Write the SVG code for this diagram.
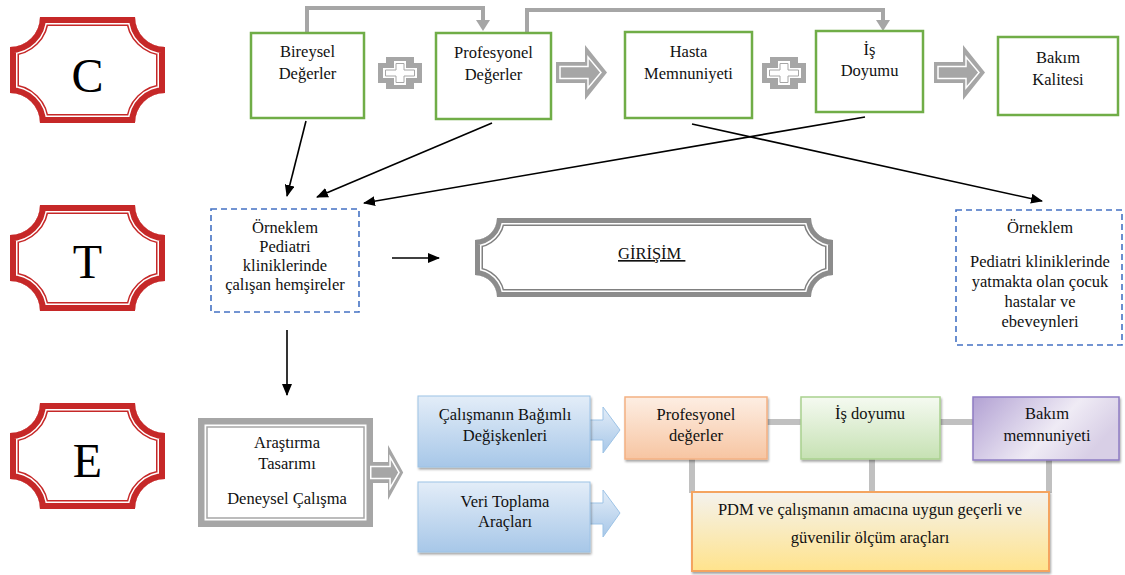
<svg xmlns="http://www.w3.org/2000/svg" width="1125" height="575" viewBox="0 0 1125 575">
<style>
.t{font-family:"Liberation Serif","Times New Roman",serif;font-size:16.5px;fill:#111;text-anchor:middle}
.big{font-family:"Liberation Serif","Times New Roman",serif;font-size:48px;fill:#000;text-anchor:middle}
.gbox{fill:#fff;stroke:#70AD47;stroke-width:2.5}
.dash{fill:#fff;stroke:#4472C4;stroke-width:1.6;stroke-dasharray:6 4}
.blk{stroke:#000;stroke-width:1.6;fill:none;marker-end:url(#ah)}
.gc{stroke:#a6a6a6;stroke-width:4;fill:none}
.gh{fill:#a6a6a6}
.bar{stroke:#c0c0c0;stroke-width:6}
.barrow{fill:#a6a6a6}
.binner{fill:none;stroke:#fff;stroke-width:1.5}
.bluearr{fill:url(#blueGrad);stroke:#9dc3e6;stroke-width:1}
</style>
<defs>
<marker id="ah" markerWidth="12" markerHeight="10" refX="11" refY="5" orient="auto" markerUnits="userSpaceOnUse"><path d="M0,0 L12,5 L0,10 Z" fill="#000"/></marker>
<path id="plq" d="M30,0 H125 A30,30 0 0 0 155,30 V76 A30,30 0 0 0 125,106 H30 A30,30 0 0 0 0,76 V30 A30,30 0 0 0 30,0 Z"/>
<clipPath id="plqClip"><use href="#plq"/></clipPath>
<path id="gir" d="M22,0 H336 A22,22 0 0 0 358,22 V57 A22,22 0 0 0 336,79 H22 A22,22 0 0 0 0,57 V22 A22,22 0 0 0 22,0 Z"/>
<clipPath id="girClip"><use href="#gir"/></clipPath>
<g id="blockArrow">
<path class="barrow" d="M0,17 H29 V0 L51,27.5 L29,55 V38 H0 Z"/>
<path class="binner" vector-effect="non-scaling-stroke" d="M4,21.5 H32 V12 L45,27.5 L32,43 V33.5 H4 Z"/>
</g>
<g id="plus">
<path fill="#a6a6a6" d="M8,0 H36 V6 H44 V26 H36 V32 H8 V26 H0 V6 H8 Z"/>
<path fill="#fff" d="M16,4 H28 V11 H39 V21 H28 V28 H16 V21 H5 V11 H16 Z"/>
<path fill="none" stroke="#a6a6a6" stroke-width="1" d="M18,6.5 H26 V13 H36.5 V19 H26 V25.5 H18 V19 H7.5 V13 H18 Z"/>
</g>
<linearGradient id="blueGrad" x1="0" y1="0" x2="0" y2="1"><stop offset="0" stop-color="#e3edf8"/><stop offset="1" stop-color="#a7c7e8"/></linearGradient>
<linearGradient id="orangeGrad" x1="0" y1="0" x2="0" y2="1"><stop offset="0" stop-color="#fdeee3"/><stop offset="1" stop-color="#f7c5a2"/></linearGradient>
<linearGradient id="greenGrad" x1="0" y1="0" x2="0" y2="1"><stop offset="0" stop-color="#f5faf1"/><stop offset="1" stop-color="#c6e1b3"/></linearGradient>
<linearGradient id="purpleGrad" x1="0" y1="0" x2="1" y2="0.4"><stop offset="0" stop-color="#b2a1d3"/><stop offset="0.65" stop-color="#efebf5"/><stop offset="1" stop-color="#d8cfe6"/></linearGradient>
<linearGradient id="yellowGrad" x1="0" y1="0" x2="0" y2="1"><stop offset="0" stop-color="#f4f2ee"/><stop offset="1" stop-color="#ffe38c"/></linearGradient>
<filter id="sh" x="-10%" y="-10%" width="130%" height="140%"><feDropShadow dx="1" dy="2" stdDeviation="1" flood-color="#000" flood-opacity="0.35"/></filter>
</defs>

<rect width="1125" height="575" fill="#fff"/>

<!-- Row labels -->
<g id="label-C" transform="translate(10,17)">
<g clip-path="url(#plqClip)">
<use href="#plq" fill="#fff" stroke="#C62828" stroke-width="18"/>
<use href="#plq" fill="none" stroke="#fff" stroke-width="15"/>
<use href="#plq" fill="none" stroke="#C62828" stroke-width="12"/>
</g>
<text class="big" x="77.5" y="74.5">C</text>
</g>
<g id="label-T" transform="translate(10,205)">
<g clip-path="url(#plqClip)">
<use href="#plq" fill="#fff" stroke="#C62828" stroke-width="18"/>
<use href="#plq" fill="none" stroke="#fff" stroke-width="15"/>
<use href="#plq" fill="none" stroke="#C62828" stroke-width="12"/>
</g>
<text class="big" x="77.5" y="73">T</text>
</g>
<g id="label-E" transform="translate(10,403)">
<g clip-path="url(#plqClip)">
<use href="#plq" fill="#fff" stroke="#C62828" stroke-width="18"/>
<use href="#plq" fill="none" stroke="#fff" stroke-width="15"/>
<use href="#plq" fill="none" stroke="#C62828" stroke-width="12"/>
</g>
<text class="big" x="77.5" y="74">E</text>
</g>

<!-- Connectors -->
<g id="connectors">
<path class="gc" d="M307,33 V8 H483 V21"/>
<polygon class="gh" points="476,20 490,20 483,31"/>
<path class="gc" d="M527,33 V10 H883 V21"/>
<polygon class="gh" points="876,20 890,20 883,31"/>
<path class="blk" d="M306,121 L287,196"/>
<path class="blk" d="M492,123 L317,197"/>
<path class="blk" d="M865,117 L364,203"/>
<path class="blk" d="M692,124 L1042,201"/>
<path class="blk" d="M392,258 L439,258"/>
<path class="blk" d="M287,330 L287,395"/>
<line class="bar" x1="767" y1="422" x2="801" y2="422"/>
<line class="bar" x1="940" y1="422" x2="973" y2="422"/>
<line class="bar" x1="692" y1="459" x2="692" y2="493"/>
<line class="bar" x1="872" y1="459" x2="872" y2="493"/>
<line class="bar" x1="1049" y1="460" x2="1049" y2="493"/>
</g>

<!-- C row -->
<g id="node-bireysel">
<rect class="gbox" x="251" y="33" width="113" height="85"/>
<text class="t" x="307.5" y="57">Bireysel</text>
<text class="t" x="307.5" y="79">Değerler</text>
</g>
<g id="op-plus-1"><use href="#plus" transform="translate(378,57)"/></g>
<g id="node-profesyonel">
<rect class="gbox" x="436" y="33" width="115" height="86"/>
<text class="t" x="493.5" y="58">Profesyonel</text>
<text class="t" x="493.5" y="80">Değerler</text>
</g>
<g id="op-arrow-1"><use href="#blockArrow" transform="translate(556,45)"/></g>
<g id="node-hasta">
<rect class="gbox" x="625" y="32" width="127" height="86"/>
<text class="t" x="688.5" y="57">Hasta</text>
<text class="t" x="688.5" y="79">Memnuniyeti</text>
</g>
<g id="op-plus-2"><use href="#plus" transform="translate(762,57)"/></g>
<g id="node-is">
<rect class="gbox" x="816" y="31" width="107" height="81"/>
<text class="t" x="869.5" y="55">İş</text>
<text class="t" x="869.5" y="76">Doyumu</text>
</g>
<g id="op-arrow-2"><use href="#blockArrow" transform="translate(934,45)"/></g>
<g id="node-bakim">
<rect class="gbox" x="998" y="37" width="120" height="78"/>
<text class="t" x="1058" y="63">Bakım</text>
<text class="t" x="1058" y="85">Kalitesi</text>
</g>

<!-- T row -->
<g id="node-orneklem-hemsire">
<rect class="dash" x="211" y="209" width="148" height="103"/>
<text class="t" x="285" y="233">Örneklem</text>
<text class="t" x="285" y="252">Pediatri</text>
<text class="t" x="285" y="271">kliniklerinde</text>
<text class="t" x="285" y="290">çalışan hemşireler</text>
</g>
<g id="node-girisim" transform="translate(475,218)">
<g clip-path="url(#girClip)">
<use href="#gir" fill="#fff" stroke="#808080" stroke-width="16"/>
<use href="#gir" fill="none" stroke="#fff" stroke-width="13"/>
<use href="#gir" fill="none" stroke="#8c8c8c" stroke-width="10"/>
</g>
<text class="t" x="143" y="41" style="text-anchor:start;text-decoration:underline" xml:space="preserve">GİRİŞİM </text>
</g>
<g id="node-orneklem-cocuk">
<rect class="dash" x="956" y="210" width="166" height="135"/>
<text class="t" x="1040" y="233">Örneklem</text>
<text class="t" x="1040" y="267">Pediatri kliniklerinde</text>
<text class="t" x="1040" y="287">yatmakta olan çocuk</text>
<text class="t" x="1040" y="307">hastalar ve</text>
<text class="t" x="1040" y="327">ebeveynleri</text>
</g>

<!-- E row -->
<g id="node-arastirma">
<rect x="201.25" y="421.25" width="168.5" height="102.5" fill="#fff" stroke="#a6a6a6" stroke-width="6.5"/>
<rect x="207" y="427" width="157" height="91" fill="none" stroke="#a6a6a6" stroke-width="1.5"/>
<text class="t" x="287" y="448">Araştırma</text>
<text class="t" x="287" y="469">Tasarımı</text>
<text class="t" x="287" y="504">Deneysel Çalışma</text>
</g>
<g id="op-arrow-3"><use href="#blockArrow" transform="translate(368,445) scale(0.69,1)"/></g>
<g id="node-bagimli">
<polygon class="bluearr" points="586,420 603,420 603,407 620,430 603,453 603,440 586,440"/>
<rect x="418" y="396" width="172" height="71" fill="url(#blueGrad)" stroke="#9dc3e6" stroke-width="1" filter="url(#sh)"/>
<text class="t" x="505" y="420">Çalışmanın Bağımlı</text>
<text class="t" x="505" y="441">Değişkenleri</text>
</g>
<g id="node-veri">
<polygon class="bluearr" points="586,503 603,503 603,490 620,513 603,537 603,524 586,524"/>
<rect x="418" y="482" width="172" height="70" fill="url(#blueGrad)" stroke="#9dc3e6" stroke-width="1" filter="url(#sh)"/>
<text class="t" x="505" y="507">Veri Toplama</text>
<text class="t" x="505" y="527">Araçları</text>
</g>
<g id="node-prof-degerler">
<rect x="625" y="397" width="142" height="62" fill="url(#orangeGrad)" stroke="#f4b183" stroke-width="1.5" filter="url(#sh)"/>
<text class="t" x="696" y="420">Profesyonel</text>
<text class="t" x="696" y="441">değerler</text>
</g>
<g id="node-is-doyumu">
<rect x="801" y="397" width="139" height="62" fill="url(#greenGrad)" stroke="#a9d18e" stroke-width="1.5" filter="url(#sh)"/>
<text class="t" x="870" y="419">İş doyumu</text>
</g>
<g id="node-bakim-memnuniyeti">
<rect x="973" y="397" width="146" height="63" fill="url(#purpleGrad)" stroke="#8e7cc3" stroke-width="1.5" filter="url(#sh)"/>
<text class="t" x="1047" y="419">Bakım</text>
<text class="t" x="1047" y="441">memnuniyeti</text>
</g>
<g id="node-pdm">
<rect x="692" y="492" width="357" height="79" fill="url(#yellowGrad)" stroke="#f4a460" stroke-width="2" filter="url(#sh)"/>
<text class="t" x="870" y="515">PDM ve çalışmanın amacına uygun geçerli ve</text>
<text class="t" x="870" y="543">güvenilir ölçüm araçları</text>
</g>
</svg>
